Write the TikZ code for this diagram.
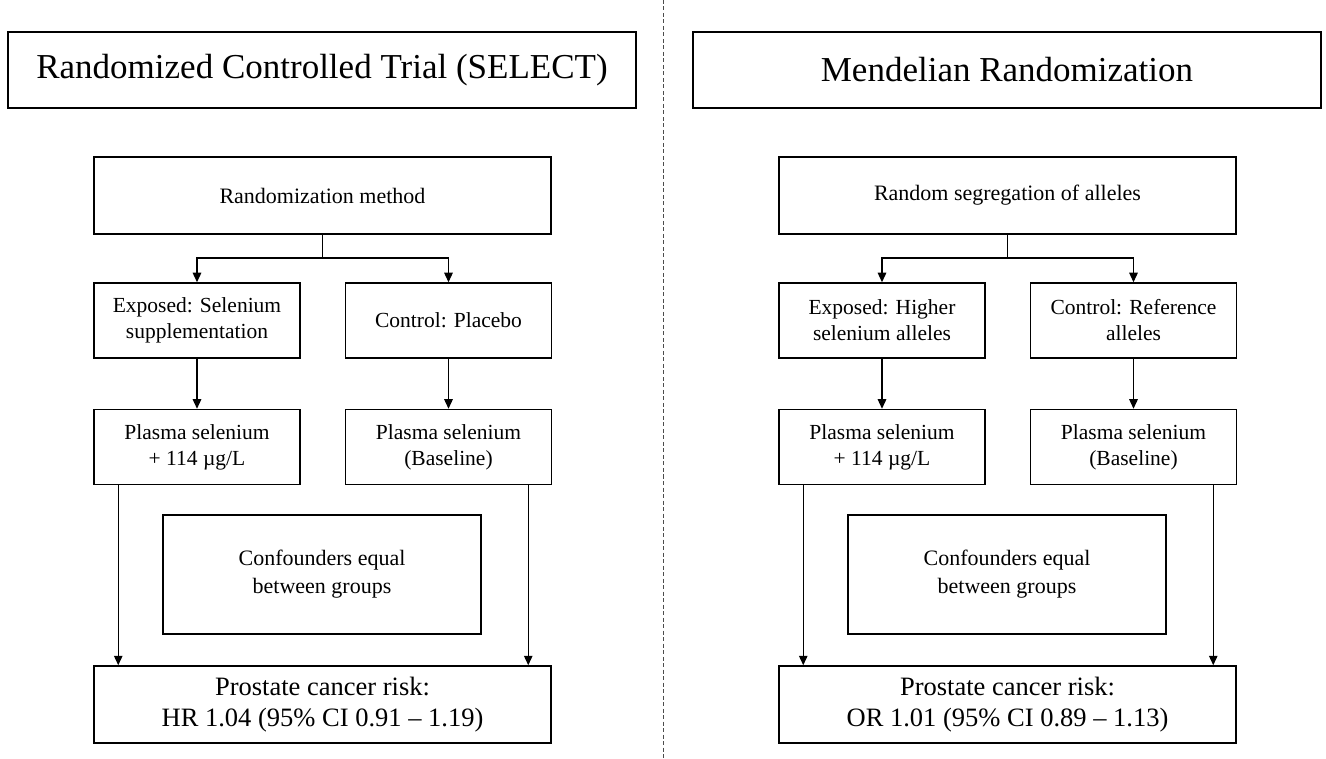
\documentclass[tikz,border=0pt]{standalone}
\usepackage{fontspec}
\setmainfont{Liberation Serif}
\usetikzlibrary{arrows.meta,positioning}

\begin{document}
\begin{tikzpicture}[
  x=1pt, y=-1pt,
  >={Triangle[width=8.5pt,length=9.5pt]},
  headbox/.style={draw, line width=1.5pt, minimum width=628pt, minimum height=76pt, font=\fontsize{35}{40}\selectfont},
  bigbox/.style={draw, line width=1.5pt, align=center, minimum width=457pt, minimum height=77pt, font=\fontsize{22}{26}\selectfont},
  smallbox/.style={draw, line width=1.5pt, align=center, minimum width=206pt, minimum height=75pt, font=\fontsize{21.5}{26}\selectfont},
  confbox/.style={draw, line width=1.5pt, align=center, minimum width=318pt, minimum height=119pt, font=\fontsize{22}{28}\selectfont},
  riskbox/.style={draw, line width=1.5pt, align=center, minimum width=457pt, minimum height=77pt, font=\fontsize{26.5}{31}\selectfont},
  link/.style={->, line width=1.3pt}
]
\useasboundingbox (0,0) rectangle (1326,759);

% divider between the two designs
\draw[line width=0.9pt, black!70, dash pattern=on 4pt off 2.5pt] (663,0) -- (663,759);

% randomized controlled trial
\node[headbox] (rcttitle) at (322,70) {Randomized Controlled Trial (SELECT)};
\node[bigbox] (rctrand) at (322.5,195.5) {Randomization method};
\node[smallbox] (rctexp) at (197,320.5) {Exposed: Selenium\\supplementation};
\node[smallbox, right=44pt of rctexp] (rctctl) {Control: Placebo};
\node[smallbox, below=50pt of rctexp] (rctplexp) {Plasma selenium\\+ 114 µg/L};
\node[smallbox, below=50pt of rctctl] (rctplctl) {Plasma selenium\\(Baseline)};
\node[confbox] (rctconf) at (322,574.5) {Confounders equal\\between groups};
\node[riskbox] (rctrisk) at (322.5,704.5) {Prostate cancer risk:\\HR 1.04 (95\% CI 0.91 -- 1.19)};

\coordinate (rctsplit) at (322.5,258);
\draw[line width=1.3pt] (rctrand.south) -- (rctsplit);
\draw[link] (rctsplit) -| (rctexp.north);
\draw[link] (rctsplit) -| (rctctl.north);
\draw[link] (rctexp) -- (rctplexp);
\draw[link] (rctctl) -- (rctplctl);
\draw[link] ([xshift=25pt]rctplexp.south west) -- ([xshift=25pt]rctplexp.south west |- rctrisk.north);
\draw[link] ([xshift=-24pt]rctplctl.south east) -- ([xshift=-24pt]rctplctl.south east |- rctrisk.north);

% mendelian randomization
\begin{scope}[xshift=685pt]
\node[headbox] (mrtitle) at (322,70) {Mendelian Randomization};
\node[bigbox] (mrrand) at (322.5,195.5) {Random segregation of alleles};
\node[smallbox] (mrexp) at (197,320.5) {Exposed: Higher\\selenium alleles};
\node[smallbox, right=44pt of mrexp] (mrctl) {Control: Reference\\alleles};
\node[smallbox, below=50pt of mrexp] (mrplexp) {Plasma selenium\\+ 114 µg/L};
\node[smallbox, below=50pt of mrctl] (mrplctl) {Plasma selenium\\(Baseline)};
\node[confbox] (mrconf) at (322,574.5) {Confounders equal\\between groups};
\node[riskbox] (mrrisk) at (322.5,704.5) {Prostate cancer risk:\\OR 1.01 (95\% CI 0.89 -- 1.13)};

\coordinate (mrsplit) at (322.5,258);
\draw[line width=1.3pt] (mrrand.south) -- (mrsplit);
\draw[link] (mrsplit) -| (mrexp.north);
\draw[link] (mrsplit) -| (mrctl.north);
\draw[link] (mrexp) -- (mrplexp);
\draw[link] (mrctl) -- (mrplctl);
\draw[link] ([xshift=25pt]mrplexp.south west) -- ([xshift=25pt]mrplexp.south west |- mrrisk.north);
\draw[link] ([xshift=-24pt]mrplctl.south east) -- ([xshift=-24pt]mrplctl.south east |- mrrisk.north);
\end{scope}

\end{tikzpicture}
\end{document}
